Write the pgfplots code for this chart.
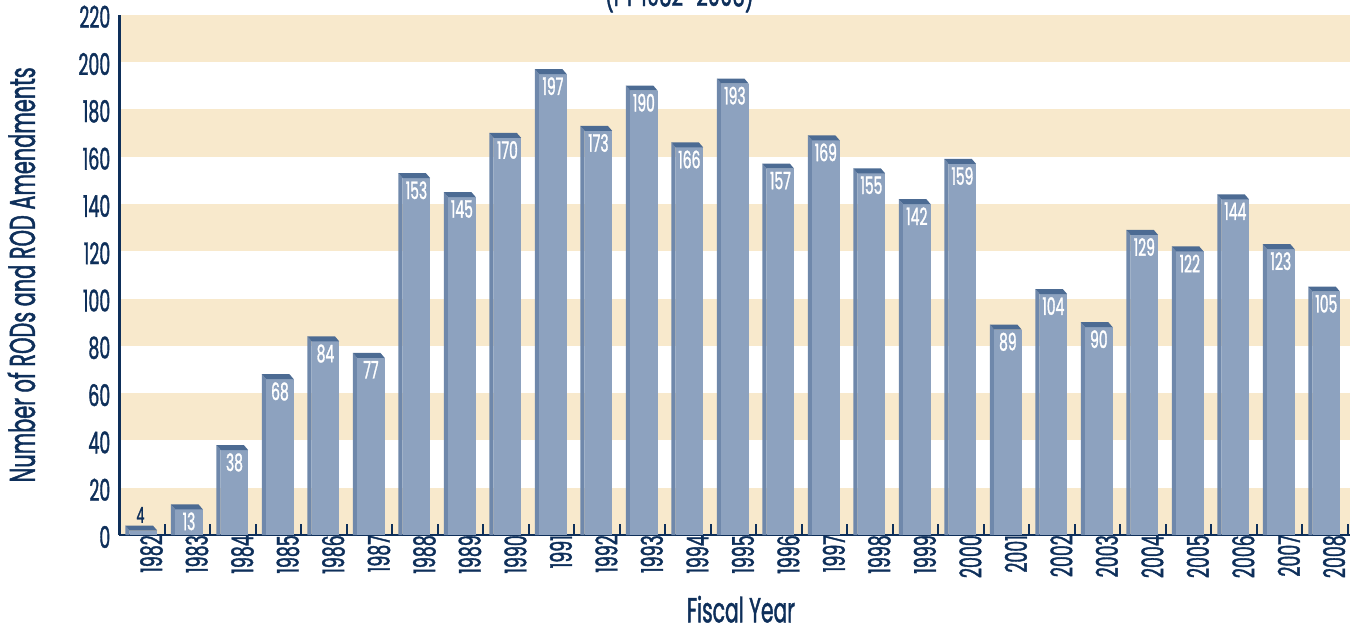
\documentclass[border=0pt]{standalone}
\usepackage{pgfplots}
\usepackage{pgfplotstable}
\pgfplotsset{compat=1.18}
\usepackage{fontspec}
\setmainfont{Poppins}[FakeStretch=0.58, FakeBold=1.2]
\definecolor{navy}{HTML}{0E2F5A}
\definecolor{band}{HTML}{F8E9CC}
\definecolor{barfront}{HTML}{8DA2BF}
\definecolor{barside}{HTML}{6F88AB}
\definecolor{bartop}{HTML}{4C6B93}
\pgfplotstableread{
x year v
0 1982 4
1 1983 13
2 1984 38
3 1985 68
4 1986 84
5 1987 77
6 1988 153
7 1989 145
8 1990 170
9 1991 197
10 1992 173
11 1993 190
12 1994 166
13 1995 193
14 1996 157
15 1997 169
16 1998 155
17 1999 142
18 2000 159
19 2001 89
20 2002 104
21 2003 90
22 2004 129
23 2005 122
24 2006 144
25 2007 123
26 2008 105
}\data
\def\yunit{2.365}
\pgfdeclareplotmark{bar3d}{%
  \pgfmathsetmacro\barH{\rawy*\yunit}%
  \pgfpathmoveto{\pgfpoint{-18.05pt}{0pt}}%
  \pgfpathlineto{\pgfpoint{-13.75pt}{-5pt}}%
  \pgfpathlineto{\pgfpoint{-13.75pt}{-\barH pt}}%
  \pgfpathlineto{\pgfpoint{-18.05pt}{-\barH pt}}%
  \pgfpathclose
  \pgfsetfillcolor{barside}\pgfusepath{fill}%
  \pgfpathrectanglecorners{\pgfpoint{-13.75pt}{-5pt}}{\pgfpoint{13.75pt}{-\barH pt}}%
  \pgfsetfillcolor{barfront}\pgfusepath{fill}%
  \pgfpathmoveto{\pgfpoint{-13.75pt}{-5pt}}%
  \pgfpathlineto{\pgfpoint{13.75pt}{-5pt}}%
  \pgfpathlineto{\pgfpoint{9.45pt}{0pt}}%
  \pgfpathlineto{\pgfpoint{-18.05pt}{0pt}}%
  \pgfpathclose
  \pgfsetfillcolor{bartop}\pgfusepath{fill}%
}
\begin{document}
\begin{tikzpicture}
\path[use as bounding box] (-119.5pt,-95pt) rectangle (1233.5pt,535pt);
\begin{axis}[
  at={(0pt,0pt)}, anchor=south west,
  scale only axis, width=1230.5pt, height=520.3pt,
  xmin=-0.527, xmax=26.52, ymin=0, ymax=220,
  axis on top,
  axis lines*=left,
  x axis line style={navy, line width=2.2pt},
  y axis line style={navy, line width=3pt},
  /pgf/number format/assume math mode=true,
  ytick={0,20,...,220},
  xtick={0,...,26},
  xticklabels from table={\data}{year},
  minor xtick={0.47,1.47,...,26.47},
  major tick length=0pt,
  minor tick length=11pt,
  tick align=inside,
  xtick pos=bottom, ytick pos=left,
  minor tick style={navy, line width=2pt},
  yticklabel style={navy, font=\fontsize{30}{34}\selectfont, anchor=east, inner sep=0pt, xshift=-9pt, yshift=-2pt},
  xticklabel style={navy, font=\fontsize{30}{34}\selectfont, rotate=90, anchor=east, inner sep=0pt, yshift=-8pt},
  xlabel={Fiscal Year},
  ylabel={Number of RODs and ROD Amendments},
  xlabel style={navy, font=\fontsize{35}{40}\selectfont, at={(axis description cs:0.505,-0.168)}, anchor=base},
  ylabel style={navy, font=\fontsize{36}{40}\selectfont, at={(axis description cs:-0.0687,0.5)}, anchor=base, rotate=0},
  clip=false,
]
\fill[band] (axis cs:-0.527,0) rectangle (axis cs:26.52,20);
\fill[band] (axis cs:-0.527,40) rectangle (axis cs:26.52,60);
\fill[band] (axis cs:-0.527,80) rectangle (axis cs:26.52,100);
\fill[band] (axis cs:-0.527,120) rectangle (axis cs:26.52,140);
\fill[band] (axis cs:-0.527,160) rectangle (axis cs:26.52,180);
\fill[band] (axis cs:-0.527,200) rectangle (axis cs:26.52,220);
\addplot[only marks, mark=bar3d, visualization depends on={rawy \as \rawy}] table[x=x, y=v] {\data};
\addplot[draw=none, mark=none, skip coords between index={0}{1},
  point meta=explicit symbolic,
  nodes near coords={\pgfplotspointmeta},
  every node near coord/.style={white, anchor=north, inner sep=0pt, yshift=-8pt, font=\fontsize{24}{26}\selectfont}]
  table[x=x, y=v, meta=v] {\data};
\addplot[draw=none, mark=none, skip coords between index={1}{27},
  point meta=explicit symbolic,
  nodes near coords={\pgfplotspointmeta},
  every node near coord/.style={navy, anchor=south, inner sep=0pt, xshift=-3pt, yshift=2.5pt, font=\fontsize{22}{26}\selectfont}]
  table[x=x, y=v, meta=v] {\data};
\node[navy, font=\fontsize{34}{40}\selectfont, anchor=base] at (axis description cs:0.455,1.0167) {(FY 1982–2008)};
\end{axis}
\end{tikzpicture}
\end{document}
